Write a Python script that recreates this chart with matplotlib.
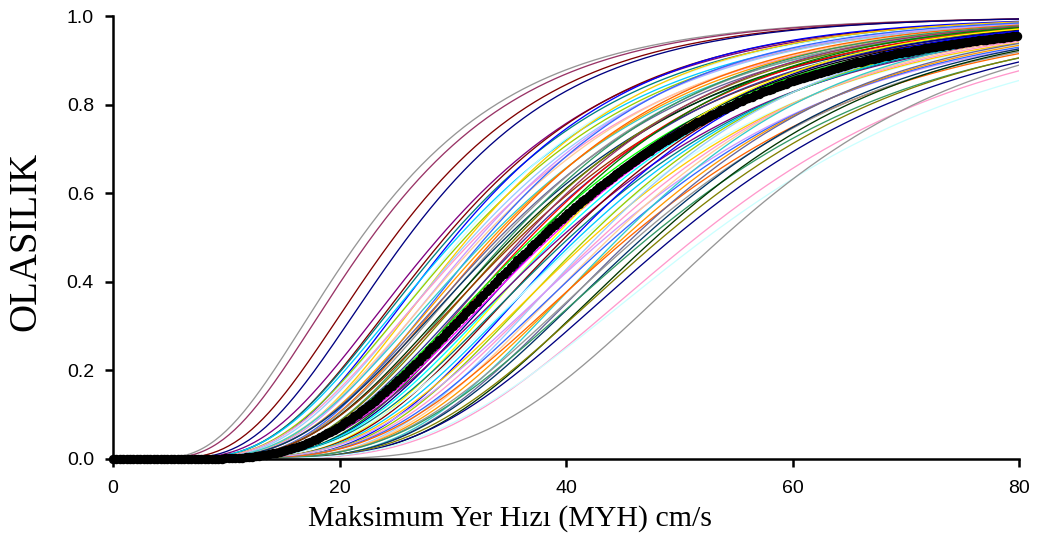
import math
import numpy as np
import matplotlib
matplotlib.use("Agg")
import matplotlib.pyplot as plt

# ==============================
# Fragility curve parameters (median PGV in cm/s, lognormal dispersion)
# ==============================
medians = [
    21.9, 22.8, 24.8, 26.0,
    28.8, 29.3, 29.7, 30.1, 30.4, 30.8, 31.1, 31.4, 31.7, 32.0,
    32.3, 32.6, 32.9, 33.2, 33.5, 33.8, 34.1, 34.4, 34.7, 35.0,
    35.3, 35.6, 35.9, 36.2, 36.5, 36.8, 37.1, 37.4, 37.7, 38.0,
    38.3, 38.6, 38.9, 39.2, 39.5, 39.9, 40.3, 40.7, 41.1, 41.5,
    41.9, 42.3, 42.7, 43.1, 43.5, 43.9, 44.3, 44.7, 45.1, 45.5,
    45.9, 46.3, 46.8, 47.3, 47.9, 48.5,
    49.5, 51.5, 52.4, 53.8,
]
betas = [
    0.515, 0.50, 0.47, 0.45,
    0.47, 0.45, 0.46, 0.43, 0.47, 0.44, 0.46, 0.42, 0.45, 0.47,
    0.43, 0.45, 0.41, 0.46, 0.44, 0.42, 0.45, 0.43, 0.46, 0.41,
    0.44, 0.42, 0.45, 0.40, 0.43, 0.41, 0.44, 0.39, 0.42, 0.45,
    0.40, 0.43, 0.38, 0.41, 0.44, 0.39, 0.42, 0.37, 0.40, 0.43,
    0.38, 0.41, 0.36, 0.39, 0.42, 0.37, 0.40, 0.35, 0.38, 0.41,
    0.36, 0.39, 0.37, 0.40, 0.36, 0.38,
    0.38, 0.38, 0.40, 0.324,
]

# mean curve
mean_median = 37.8
mean_beta = 0.44

xticks = [0, 20, 40, 60, 80]
yticks = [0.0, 0.2, 0.4, 0.6, 0.8, 1.0]

colors = [
    "#000080", "#FF00FF", "#FFFF00", "#00FFFF", "#800080", "#800000",
    "#008080", "#0000FF", "#00CCFF", "#CCFFFF", "#99CC00", "#FFCC00",
    "#99CCFF", "#FF99CC", "#CC99FF", "#FFCC99", "#3366FF", "#33CCCC",
    "#FF9900", "#FF6600", "#666699", "#969696", "#003366", "#339966",
    "#003300", "#808000", "#993300", "#993366", "#333399", "#FF0000",
    "#00FF00", "#008000", "#000000", "#C0C0C0",
]
# the outermost curves on either side
outer_colors = {0: "#969696", 1: "#993366", 2: "#800000", 3: "#000080",
                60: "#000080", 61: "#FF99CC", 62: "#CCFFFF", 63: "#969696"}


def lognorm_cdf(x, m, b):
    x = np.asarray(x, dtype=float)
    out = np.zeros_like(x)
    pos = x > 0
    z = np.log(x[pos] / m) / (b * math.sqrt(2.0))
    out[pos] = 0.5 * (1.0 + np.array([math.erf(v) for v in z]))
    return out


x = np.linspace(0, 80, 321)
x_pts = np.arange(0, 80.01, 0.3)

fig = plt.figure(figsize=(10.4, 5.41), dpi=100)
ax = fig.add_axes([0.1087, 0.1516, 0.8712, 0.8184])

for i, (m, b) in enumerate(zip(medians, betas)):
    c = outer_colors.get(i, colors[i % len(colors)])
    ax.plot(x, lognorm_cdf(x, m, b), color=c, lw=0.95)

ax.plot(x_pts, lognorm_cdf(x_pts, mean_median, mean_beta), color="black",
        lw=1.8, marker="o", ms=5.8, clip_on=False, zorder=5)

ax.set_xlim(0, 80)
ax.set_ylim(0, 1)
ax.set_xticks(xticks)
ax.set_yticks(yticks)
ax.set_xticklabels([str(v) for v in xticks], family="Liberation Sans", fontsize=14)
ax.set_yticklabels([f"{v:.1f}" for v in yticks], family="Liberation Sans", fontsize=14)
ax.spines["top"].set_visible(False)
ax.spines["right"].set_visible(False)
for s in ("left", "bottom"):
    ax.spines[s].set_linewidth(1.8)
ax.tick_params(direction="out", length=5.8, width=1.8)
ax.tick_params(axis="x", pad=9)
ax.tick_params(axis="y", pad=8)

ax.set_xlabel("Maksimum Yer Hızı (MYH) cm/s", family="Liberation Serif",
              fontsize=21.5)
ax.xaxis.set_label_coords(0.438, -0.104)
ax.set_ylabel("OLASILIK", family="Liberation Serif", fontsize=28)
ax.yaxis.set_label_coords(-0.076, 0.492)

fig.savefig("out.png", dpi=100)
